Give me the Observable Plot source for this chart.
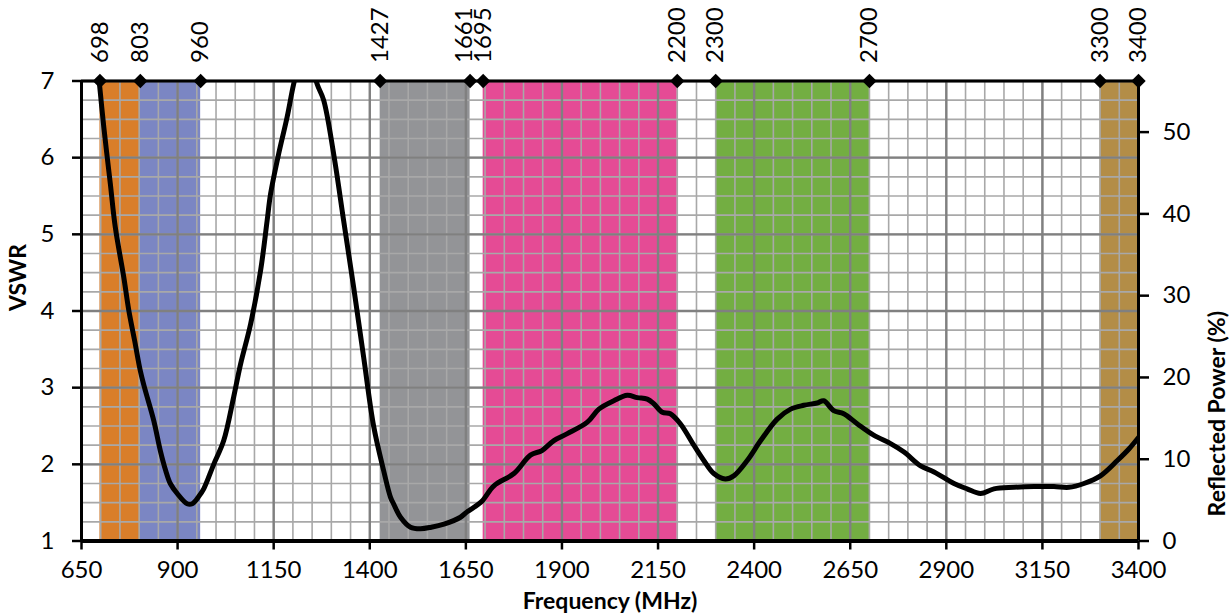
<!DOCTYPE html>
<html>
<head>
<meta charset="utf-8">
<script src="https://cdn.jsdelivr.net/npm/d3@7"></script>
<script src="https://cdn.jsdelivr.net/npm/@observablehq/plot@0.6"></script>
<style>
  html, body { margin: 0; padding: 0; background: #fff; }
  #chart { width: 1229px; height: 613px; }
</style>
</head>
<body>
<div id="chart"></div>
<script>
// ---- Data ----
const freq = [695, 708, 725, 738, 760, 773, 788, 803, 814, 838, 855, 869, 881, 899, 925, 938, 955, 968, 994,
  1020, 1046, 1064, 1090, 1116, 1133, 1142, 1163, 1185, 1202, 1232, 1263, 1280, 1306, 1332, 1358, 1384,
  1410, 1436, 1454, 1462, 1480, 1506, 1532, 1560, 1593, 1636, 1653, 1690, 1723, 1775, 1818, 1848, 1879,
  1914, 1966, 1996, 2035, 2070, 2096, 2122, 2139, 2161, 2182, 2208, 2243, 2269, 2295, 2325, 2347, 2382,
  2417, 2460, 2495, 2529, 2564, 2581, 2607, 2633, 2668, 2711, 2755, 2790, 2833, 2868, 2920, 2954, 2989,
  3024, 3076, 3128, 3180, 3219, 3258, 3301, 3345, 3375, 3400];
const vswr = [7.05, 6.40, 5.66, 5.09, 4.44, 4.01, 3.62, 3.22, 3.00, 2.57, 2.18, 1.92, 1.75, 1.62, 1.485, 1.485, 1.58, 1.68, 2.00,
  2.31, 2.88, 3.31, 3.83, 4.53, 5.18, 5.53, 6.05, 6.53, 6.96, 7.55, 6.96, 6.75, 6.05, 5.18, 4.31, 3.40,
  2.50, 1.92, 1.57, 1.485, 1.31, 1.18, 1.16, 1.18, 1.22, 1.31, 1.38, 1.51, 1.72, 1.88, 2.12, 2.18, 2.31,
  2.40, 2.55, 2.72, 2.83, 2.90, 2.87, 2.85, 2.79, 2.68, 2.66, 2.53, 2.25, 2.05, 1.88, 1.81, 1.85, 2.05,
  2.31, 2.59, 2.72, 2.77, 2.80, 2.83, 2.70, 2.66, 2.53, 2.38, 2.27, 2.16, 1.98, 1.90, 1.75, 1.68, 1.62,
  1.68, 1.70, 1.71, 1.71, 1.70, 1.75, 1.85, 2.05, 2.20, 2.35];

const bandNames = ["698-803", "803-960", "1427-1661", "1695-2200", "2300-2700", "3300-3400"];
const bandStart = [698, 803, 1427, 1695, 2300, 3300];
const bandEnd   = [803, 960, 1661, 2200, 2700, 3400];
const bandColors = ["#D97E2A", "#7B86C3", "#939497", "#E54B95", "#73AE42", "#B38D47"];

const markers = [698, 803, 960, 1427, 1661, 1695, 2200, 2300, 2700, 3300, 3400];
const xTicks = [650, 900, 1150, 1400, 1650, 1900, 2150, 2400, 2650, 2900, 3150, 3400];
const yTicks = [1, 2, 3, 4, 5, 6, 7];
const pctTicks = [0, 10, 20, 30, 40, 50];

// Reflected power (%) at VSWR = 7 is ((7-1)/(7+1))^2 = 56.25 %, mapped linearly on the right axis
const pctMax = Math.pow((7 - 1) / (7 + 1), 2) * 100;
const pctToV = p => 1 + p * 6 / pctMax;
const vToPct = v => (v - 1) * pctMax / 6;

const curveData = freq.map((f, i) => ({f, v: vswr[i]}));

const minorX = d3.range(650, 3401, 50);
const minorY = d3.range(1, 7.001, 0.25);

const font = "Lato, 'Open Sans', sans-serif";
const FS = 24;
const TFS = 23;

const chart = Plot.plot({
  width: 1229,
  height: 613,
  marginLeft: 81,
  marginRight: 91,
  marginTop: 80.5,
  marginBottom: 72.5,
  x: {domain: [650, 3400]},
  y: {domain: [1, 7]},
  color: {domain: bandNames, range: bandColors},
  style: {fontFamily: font, fontSize: FS + "px", background: "white", color: "black"},
  marks: [
    Plot.rect(bandNames, {x1: bandStart, x2: bandEnd, fill: bandNames}),
    Plot.gridX({ticks: minorX, stroke: "#a8a8a8", strokeOpacity: 1, strokeWidth: 1.6}),
    Plot.gridY({ticks: minorY, stroke: "#a8a8a8", strokeOpacity: 1, strokeWidth: 1.6}),
    Plot.gridX({ticks: xTicks, stroke: "#808080", strokeOpacity: 1, strokeWidth: 2.4}),
    Plot.gridY({ticks: yTicks, stroke: "#808080", strokeOpacity: 1, strokeWidth: 2.4}),
    Plot.line(curveData, {x: "f", y: "v", stroke: "black", strokeWidth: 5, curve: "catmull-rom", clip: true, strokeLinejoin: "round"}),
    Plot.ruleX([650, 3400], {stroke: "black", strokeWidth: 3}),
    Plot.ruleY([1], {stroke: "black", strokeWidth: 4}),
    Plot.ruleY([7], {stroke: "black", strokeWidth: 3}),
    Plot.axisX({ticks: xTicks, tickSize: 9, tickPadding: 11, strokeWidth: 2.5, label: null, tickFormat: d => String(d), fontSize: FS, fontFamily: font}),
    Plot.axisY({ticks: yTicks, anchor: "left", tickSize: 9, tickPadding: 18, strokeWidth: 2.5, label: null, tickFormat: d => String(d), fontSize: FS, fontFamily: font}),
    Plot.axisY({ticks: pctTicks.map(pctToV), anchor: "right", tickSize: 10, tickPadding: 14, strokeWidth: 2.5,
      tickFormat: v => String(Math.round(vToPct(v))), label: null, fontSize: FS, fontFamily: font}),
    Plot.dot(markers, {x: d => d, frameAnchor: "top", symbol: "diamond2", r: 6.5, fill: "black", stroke: "none"}),
    Plot.text(markers.filter(m => m !== 1661), {x: d => d, text: d => String(d), frameAnchor: "top", rotate: -90,
      textAnchor: "start", lineAnchor: "middle", dy: -18, fontSize: FS, fill: "black"}),
    Plot.text(markers.filter(m => m === 1661), {x: d => d, text: d => String(d), frameAnchor: "top", rotate: -90,
      textAnchor: "start", lineAnchor: "middle", dy: -18, dx: -6, fontSize: FS, fill: "black"}),
    Plot.text(["Frequency (MHz)"], {text: d => d, frameAnchor: "bottom", dy: 61, lineAnchor: "middle", fontWeight: "bold", fontSize: TFS, fill: "black"}),
    Plot.text(["VSWR"], {text: d => d, frameAnchor: "left", rotate: -90, dx: -63, lineAnchor: "middle", fontWeight: "bold", fontSize: TFS, fill: "black"}),
    Plot.text(["Reflected Power (%)"], {text: d => d, frameAnchor: "right", rotate: -90, dx: 79, lineAnchor: "middle", fontWeight: "bold", fontSize: TFS, fill: "black"})
  ]
});
document.getElementById("chart").appendChild(chart);
</script>
</body>
</html>
